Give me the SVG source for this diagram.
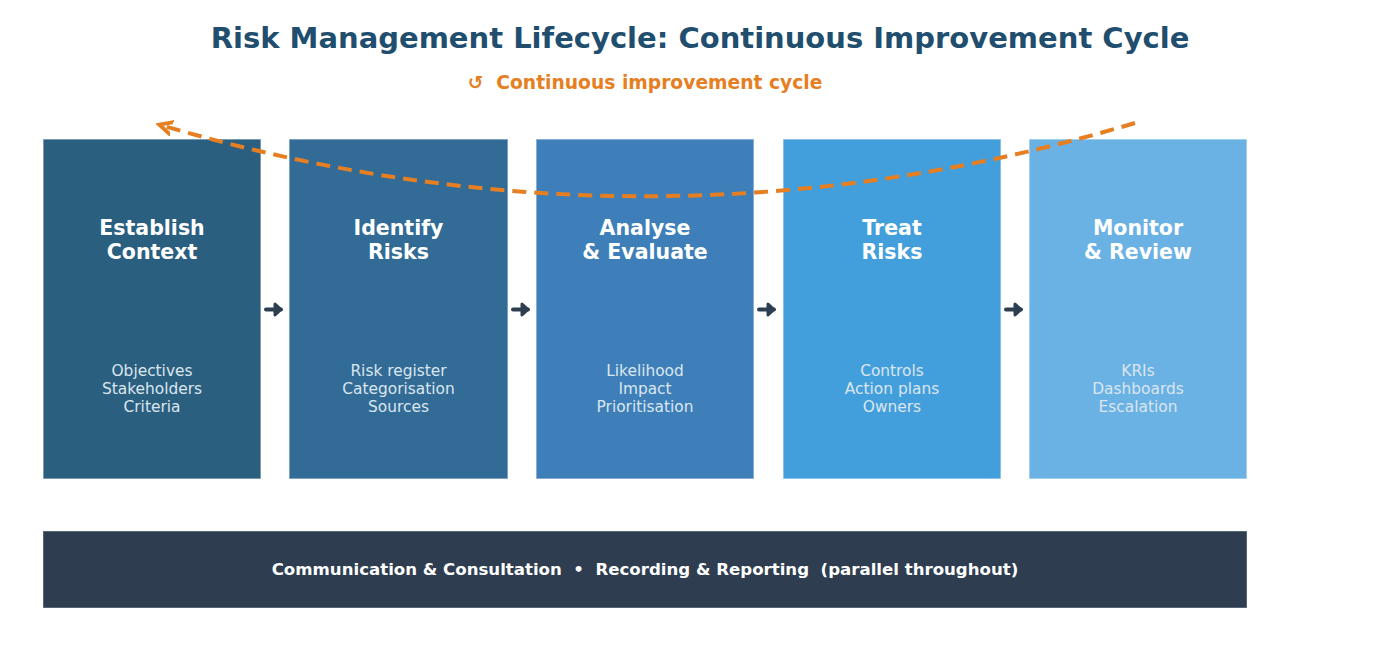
<svg xmlns="http://www.w3.org/2000/svg" width="1400" height="653" viewBox="0 0 1400 653">
<defs>
<style>
.box{stroke:#ffffff;stroke-opacity:0.5;stroke-width:1.5}
.t{font-family:"DejaVu Sans",sans-serif;font-weight:bold;font-size:20.5px;fill:#ffffff;text-anchor:middle}
.s{font-family:"DejaVu Sans",sans-serif;font-size:15.4px;fill:#dbe6ef;text-anchor:middle}
.conn{stroke:#2c3e50;stroke-width:4;fill:none;stroke-linecap:round;marker-end:url(#ah)}
</style>
<marker id="ah" markerUnits="userSpaceOnUse" viewBox="-10 -10 20 20" refX="0" refY="0" markerWidth="20" markerHeight="20" orient="auto">
<path d="M-6,-5.5 L0,0 L-6,5.5 z" fill="#2c3e50" stroke="#2c3e50" stroke-width="3" stroke-linejoin="round"/>
</marker>
<marker id="oh" viewBox="0 0 10 10" refX="5" refY="5" markerWidth="4" markerHeight="4" orient="auto">
<path d="M0,1 L8,5 L0,9" fill="none" stroke="#e67e22" stroke-width="2.5" stroke-linecap="round"/>
</marker>
</defs>
<rect width="1400" height="653" fill="#ffffff"/>
<text x="700" y="48" font-family="DejaVu Sans,sans-serif" font-weight="bold" font-size="29" fill="#1f4e6e" text-anchor="middle">Risk Management Lifecycle: Continuous Improvement Cycle</text>
<text x="645" y="89" font-family="DejaVu Sans,sans-serif" font-weight="bold" font-size="18.7" fill="#e67e22" text-anchor="middle" xml:space="preserve" style="white-space:pre">↺  Continuous improvement cycle</text>
<g id="node1"><rect class="box" x="43" y="139" width="218" height="340" fill="#2b5f7f"/>
<text class="t" x="152" y="235">Establish</text><text class="t" x="152" y="259">Context</text>
<text class="s" x="152" y="376">Objectives</text><text class="s" x="152" y="394">Stakeholders</text><text class="s" x="152" y="412">Criteria</text></g>
<g id="node2"><rect class="box" x="289" y="139" width="219" height="340" fill="#316b96"/>
<text class="t" x="398.5" y="235">Identify</text><text class="t" x="398.5" y="259">Risks</text>
<text class="s" x="398.5" y="376">Risk register</text><text class="s" x="398.5" y="394">Categorisation</text><text class="s" x="398.5" y="412">Sources</text></g>
<g id="node3"><rect class="box" x="536" y="139" width="218" height="340" fill="#3e7fb9"/>
<text class="t" x="645" y="235">Analyse</text><text class="t" x="645" y="259">&amp; Evaluate</text>
<text class="s" x="645" y="376">Likelihood</text><text class="s" x="645" y="394">Impact</text><text class="s" x="645" y="412">Prioritisation</text></g>
<g id="node4"><rect class="box" x="783" y="139" width="218" height="340" fill="#439fdc"/>
<text class="t" x="892" y="235">Treat</text><text class="t" x="892" y="259">Risks</text>
<text class="s" x="892" y="376">Controls</text><text class="s" x="892" y="394">Action plans</text><text class="s" x="892" y="412">Owners</text></g>
<g id="node5"><rect class="box" x="1029" y="139" width="218" height="340" fill="#6ab1e4"/>
<text class="t" x="1138" y="235">Monitor</text><text class="t" x="1138" y="259">&amp; Review</text>
<text class="s" x="1138" y="376">KRIs</text><text class="s" x="1138" y="394">Dashboards</text><text class="s" x="1138" y="412">Escalation</text></g>
<g id="bar"><rect x="43" y="531" width="1204" height="77" fill="#2e3e50" stroke="#ffffff" stroke-opacity="0.4"/>
<text x="645" y="575" font-family="DejaVu Sans,sans-serif" font-weight="bold" font-size="16.6" fill="#ffffff" text-anchor="middle" xml:space="preserve" style="white-space:pre">Communication &amp; Consultation  •  Recording &amp; Reporting  (parallel throughout)</text></g>
<g id="connectors">
<line class="conn" x1="266" y1="309.5" x2="281" y2="309.5"/>
<line class="conn" x1="513" y1="309.5" x2="528" y2="309.5"/>
<line class="conn" x1="759" y1="309.5" x2="774" y2="309.5"/>
<line class="conn" x1="1006" y1="309.5" x2="1021" y2="309.5"/>
<path d="M1135,123 Q650,268 164,126" fill="none" stroke="#e67e22" stroke-width="4" stroke-dasharray="14,8" marker-end="url(#oh)"/>
</g>
</svg>
